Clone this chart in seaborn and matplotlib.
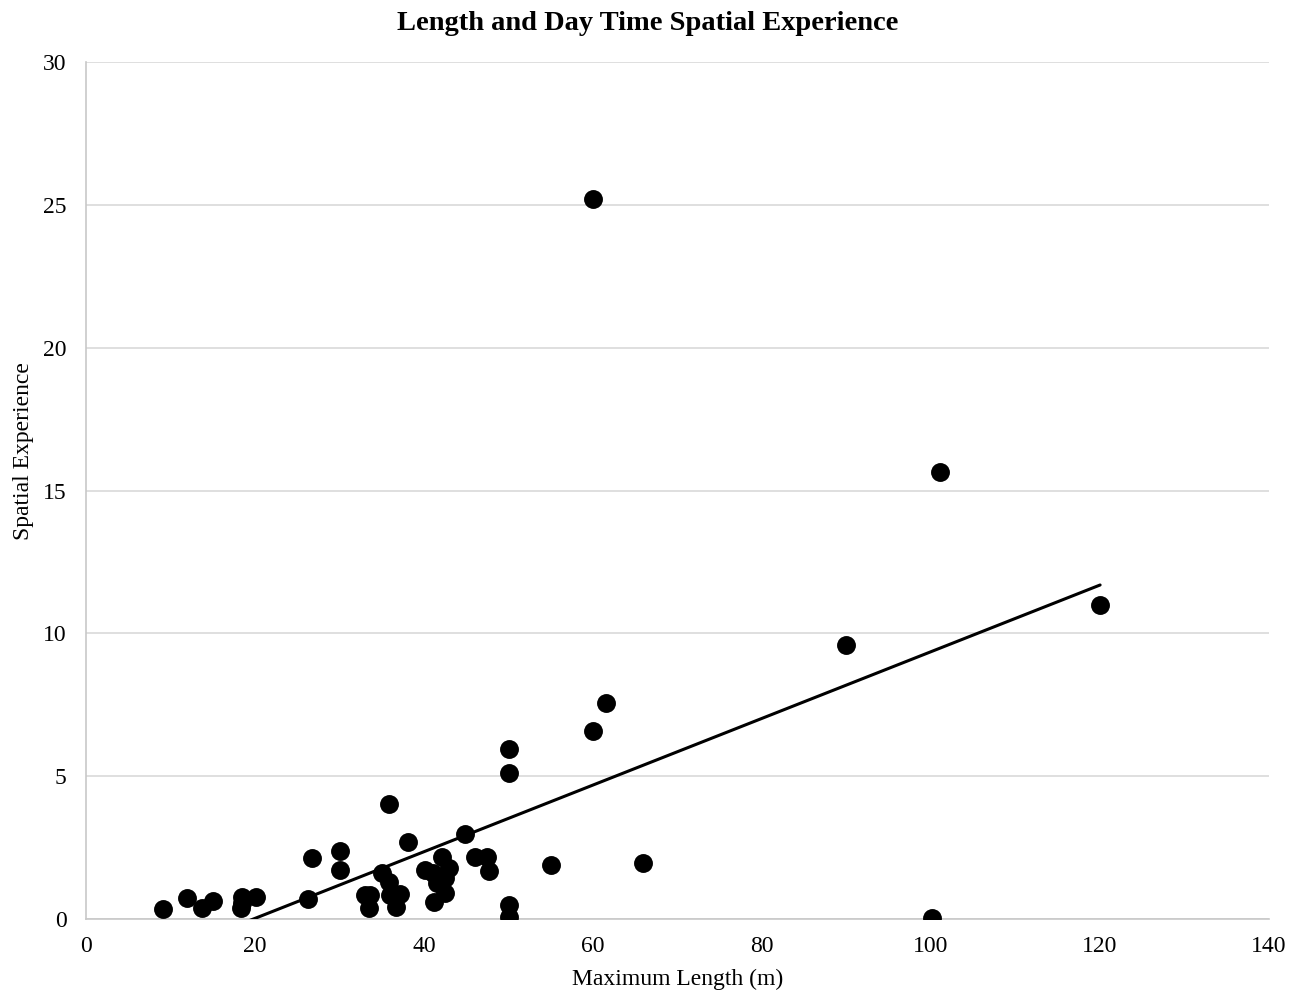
import numpy as np
import pandas as pd
import seaborn as sns
import matplotlib.pyplot as plt

# points
max_length = [9.1, 12.0, 13.7, 15.0, 18.5, 18.5, 18.4, 20.1, 26.8, 26.3,
              30.1, 30.1, 33.0, 33.6, 33.5, 35.0, 35.8, 35.9, 36.0, 37.2,
              36.7, 38.1, 40.1, 41.1, 42.1, 42.9, 42.5, 41.5, 42.5, 41.2,
              44.9, 46.0, 47.5, 47.7, 50.1, 50.1, 50.1, 50.1, 55.0, 60.0,
              61.5, 60.0, 65.9, 89.9, 100.1, 101.1, 120.0]
spatial_exp = [0.34, 0.75, 0.37, 0.64, 0.78, 0.55, 0.37, 0.76, 2.15, 0.69,
               2.38, 1.71, 0.84, 0.84, 0.37, 1.6, 1.31, 4.03, 0.84, 0.87,
               0.41, 2.71, 1.71, 1.6, 2.18, 1.77, 1.42, 1.25, 0.9, 0.61,
               2.96, 2.18, 2.18, 1.69, 0.49, 0.08, 5.97, 5.12, 1.89, 6.59,
               7.55, 25.2, 1.95, 9.59, 0.03, 15.65, 10.99]

# linear trendline as drawn (slope, intercept)
trend_coef = [0.1167, -2.31]

df = pd.DataFrame({"Maximum Length (m)": max_length,
                   "Spatial Experience": spatial_exp})

sns.set_theme(style="white")
plt.rcParams["font.family"] = ["Liberation Serif", "DejaVu Serif"]
plt.rcParams["text.color"] = "black"
plt.rcParams["axes.labelcolor"] = "black"
plt.rcParams["xtick.color"] = "black"
plt.rcParams["ytick.color"] = "black"

fig = plt.figure(figsize=(13.03, 9.91), dpi=100)
ax = fig.add_axes([0.066, 0.0726, 0.908, 0.8648])

ax.yaxis.grid(True, color="#d9d9d9", linewidth=1.2)
ax.set_axisbelow(True)

sns.scatterplot(data=df, x="Maximum Length (m)", y="Spatial Experience",
                color="black", s=185, edgecolor="black", linewidth=0, ax=ax,
                zorder=3)

xs = np.array([min(max_length), max(max_length)])
ax.plot(xs, trend_coef[0] * xs + trend_coef[1], color="black", lw=2.2, zorder=4)

ax.set_xlim(0, 140)
ax.set_ylim(0, 30)
ax.set_xticks(range(0, 141, 20))
ax.set_yticks(range(0, 31, 5))
ax.tick_params(axis="both", labelsize=17, length=0)
ax.tick_params(axis="x", pad=12)
ax.tick_params(axis="y", pad=14)

for s in ["top", "right"]:
    ax.spines[s].set_visible(False)
for s in ["bottom", "left"]:
    ax.spines[s].set_color("#c8c8c8")
    ax.spines[s].set_linewidth(1.2)

ax.set_xlabel("Maximum Length (m)", fontsize=17, labelpad=9)
ax.set_ylabel("Spatial Experience", fontsize=17)
ax.yaxis.set_label_coords(-0.044, 0.546)
ax.set_title("Length and Day Time Spatial Experience", fontsize=20.5,
             fontweight="bold", pad=23, x=0.475)

fig.savefig("out.png", dpi=100)
